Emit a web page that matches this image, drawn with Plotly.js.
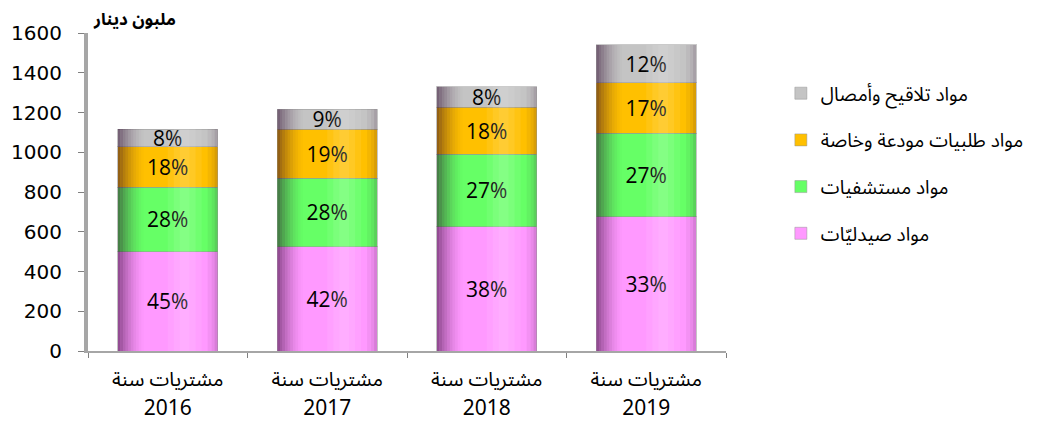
<!DOCTYPE html>
<html>
<head>
<meta charset="utf-8">
<script src="https://cdn.plot.ly/plotly-3.0.1.min.js"></script>
<style>html,body{margin:0;padding:0;background:#fff;}#chart{width:1041px;height:430px;}</style>
</head>
<body>
<div id="chart"></div>
<script>
// Data (million dinars)
const years = ["2016", "2017", "2018", "2019"];
const categoryPrefix = "مشتريات سنة";
const seriesNames = ["مواد صيدليّات", "مواد مستشفيات", "مواد طلبيات مودعة وخاصة", "مواد تلاقيح وأمصال"];
const pharmacy = [500, 525, 625, 676];
const hospitals = [324, 344, 366, 419];
const special = [204, 246, 235, 255];
const vaccines = [89, 101, 104, 190];
const pharmacyPct = ["45%", "42%", "38%", "33%"];
const hospitalsPct = ["28%", "28%", "27%", "27%"];
const specialPct = ["18%", "19%", "18%", "17%"];
const vaccinesPct = ["8%", "9%", "8%", "12%"];
const yTicks = [0, 200, 400, 600, 800, 1000, 1200, 1400, 1600];
const yTitle = "ملبون دينار";

const colors = ["#FF99FF", "#66FF66", "#FFC000", "#C4C4C4"];
const values = [pharmacy, hospitals, special, vaccines];
const labels = [pharmacyPct, hospitalsPct, specialPct, vaccinesPct];

const pctFont = {family: "'Open Sans', 'Noto Sans', sans-serif", size: 21, color: "#000"};
const arFont = "'Noto Sans Arabic', 'Noto Sans', 'DejaVu Sans', sans-serif";

const ticktext = years.map(y =>
  "<span style='font-size:20px'>" + categoryPrefix + "</span><br><span style='font-size:21px'>" + y + "</span>");

const traces = values.map((v, i) => ({
  type: "bar",
  x: years,
  y: v,
  name: seriesNames[i],
  legendgroup: "g" + i,
  legendrank: 1000 - i,
  text: labels[i],
  textposition: "inside",
  insidetextanchor: "middle",
  textangle: 0,
  textfont: pctFont,
  constraintext: "none",
  hoverinfo: "skip",
  marker: {color: colors[i], line: {color: "rgba(150,150,150,0.5)", width: 1}}
}));

// cylinder-like shading drawn over each stacked column (decoration)
const barWidth = 0.625;
const shapes = [];
years.forEach((yr, i) => {
  const total = values.reduce((s, arr) => s + arr[i], 0);
  const strip = (f0, f1, color) => shapes.push({
    type: "rect", xref: "x", yref: "y", layer: "above",
    x0: i - barWidth / 2 + f0 * barWidth, x1: i - barWidth / 2 + f1 * barWidth,
    y0: 0, y1: total, line: {width: 0}, fillcolor: color
  });
  const leftN = 10;
  for (let k = 0; k < leftN; k++) {
    const a = 0.5 * Math.pow(1 - k / leftN, 1.6);
    strip(k * 0.026, (k + 1) * 0.026, "rgba(40,0,40," + a.toFixed(3) + ")");
  }
  const hl = [[0.50, 0.56, 0.07], [0.56, 0.62, 0.14], [0.62, 0.72, 0.2], [0.72, 0.78, 0.14], [0.78, 0.84, 0.07]];
  hl.forEach(h => strip(h[0], h[1], "rgba(255,255,255," + h[2] + ")"));
  const rt = [[0.90, 0.94, 0.05], [0.94, 0.97, 0.1], [0.97, 1.0, 0.18]];
  rt.forEach(h => strip(h[0], h[1], "rgba(40,0,40," + h[2] + ")"));
});

const layout = {
  width: 1041,
  height: 430,
  margin: {l: 88, r: 313, t: 33, b: 79},
  paper_bgcolor: "#fff",
  plot_bgcolor: "#fff",
  barmode: "stack",
  bargap: 0.375,
  showlegend: true,
  legend: {
    x: 1.086, xanchor: "left", y: 0.87, yanchor: "top",
    traceorder: "grouped",
    tracegroupgap: 19,
    font: {family: arFont, size: 19, color: "#000"},
    itemwidth: 30
  },
  xaxis: {
    type: "category",
    tickmode: "array", tickvals: years, ticktext: ticktext,
    showline: true, linecolor: "#A6A6A6", linewidth: 2,
    ticks: "outside", tickcolor: "#808080", ticklen: 5,
    tickson: "boundaries",
    ticklabelstandoff: 7,
    tickfont: {family: arFont, size: 22, color: "#000"},
    showgrid: false, zeroline: false
  },
  yaxis: {
    range: [0, 1600],
    tickvals: yTicks,
    showline: true, linecolor: "#A6A6A6", linewidth: 4,
    ticks: "outside", tickcolor: "#808080", ticklen: 6,
    ticklabelstandoff: 12,
    tickfont: {family: "'DejaVu Sans', sans-serif", size: 20, color: "#000"},
    showgrid: false, zeroline: false
  },
  shapes: shapes,
  annotations: [{
    text: "<b>" + yTitle + "</b>",
    xref: "paper", yref: "paper",
    x: 0.073, y: 1.04, xanchor: "center", yanchor: "middle",
    showarrow: false,
    font: {family: arFont, size: 17, color: "#000"}
  }]
};

Plotly.newPlot("chart", traces, layout, {displayModeBar: false, staticPlot: true});
</script>
</body>
</html>
